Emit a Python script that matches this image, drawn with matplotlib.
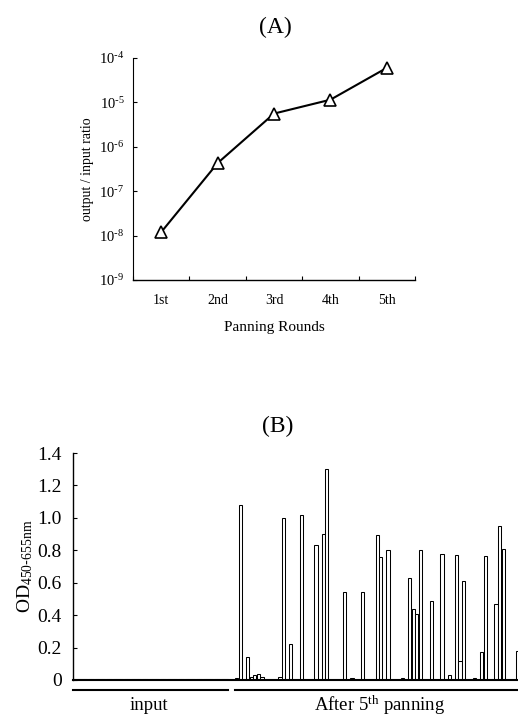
import numpy as np
import matplotlib
matplotlib.use("Agg")
from matplotlib import pyplot as plt
from matplotlib.ticker import FixedLocator, FuncFormatter

# panel A: output/input ratio per panning round
rounds = ['1st', '2nd', '3rd', '4th', '5th']
ratio = [1.2e-8, 4.3e-7, 5.6e-6, 1.15e-5, 6.0e-5]

# panel B: ELISA OD per well (input wells, then wells after 5th panning)
input_od = [0.003, 0.003, 0.003, 0.003, 0.003, 0.004, 0.004, 0.003, 0.003, 0.003,
            0.003, 0.003, 0.003, 0.003, 0.003, 0.003, 0.003, 0.003, 0.003, 0.003,
            0.003, 0.003, 0.003, 0.003, 0.003, 0.003, 0.003, 0.003, 0.003, 0.003,
            0.003, 0.003, 0.003, 0.003, 0.003, 0.003, 0.003, 0.003, 0.003, 0.003,
            0.003, 0.003, 0.003]
# well number -> OD for the visible bars after 5th panning
hit_wells = [45, 46, 48, 49, 50, 51, 52, 57, 58, 60, 63, 67, 69, 70, 75, 77, 80,
             84, 85, 87, 91, 93, 94, 95, 96, 99, 102, 104, 106, 107, 108, 111,
             113, 114, 117, 118, 119, 123]
hit_od = [0.01, 1.08, 0.14, 0.02, 0.03, 0.04, 0.02, 0.02, 1.00, 0.22, 1.02, 0.83,
          0.90, 1.30, 0.54, 0.01, 0.545, 0.895, 0.76, 0.80, 0.01, 0.63, 0.44,
          0.41, 0.80, 0.49, 0.78, 0.03, 0.77, 0.12, 0.61, 0.01, 0.17, 0.765,
          0.47, 0.95, 0.81, 0.18]

plt.rcParams['font.family'] = ['Liberation Serif', 'DejaVu Serif']
plt.rcParams['mathtext.default'] = 'regular'

fig = plt.figure(figsize=(5.18, 7.16), dpi=100)

# ---- (A)
ax1 = fig.add_axes([0.2568, 0.6089, 0.5444, 0.3101])
xa = np.arange(len(rounds)) + 0.5
ax1.plot(xa, ratio, color='black', lw=1.5, marker='^', ms=8.5,
         mfc='white', mec='black', mew=1.2, clip_on=False, zorder=3)
ax1.set_yscale('log')
ax1.set_ylim(1e-9, 1e-4)
ax1.set_xlim(0, 5)
ax1.yaxis.set_major_locator(FixedLocator([1e-9, 1e-8, 1e-7, 1e-6, 1e-5, 1e-4]))
ax1.yaxis.set_minor_locator(FixedLocator([]))
ax1.yaxis.set_major_formatter(FuncFormatter(
    lambda v, p: r'$10^{\text{-}%d}$' % abs(int(round(np.log10(v))))))
ax1.set_xticks(xa)
ax1.set_xticklabels(rounds)
ax1.tick_params(axis='x', which='major', length=0, pad=10, labelsize=10)
ax1.set_xticks(np.arange(6), minor=True)
ax1.tick_params(axis='x', which='minor', direction='in', length=3, width=0.8)
ax1.tick_params(axis='y', direction='in', length=3, width=0.8, labelsize=10.5, pad=6)
ax1.spines['top'].set_visible(False)
ax1.spines['right'].set_visible(False)
ax1.spines['left'].set_linewidth(0.8)
ax1.spines['bottom'].set_linewidth(1.0)
ax1.set_ylabel('output / input ratio', fontsize=10, labelpad=4)
ax1.set_xlabel('Panning Rounds', fontsize=11, labelpad=10)
fig.text(0.531, 0.962, '(A)', ha='center', va='center', fontsize=17)

# ---- (B)
ax2 = fig.add_axes([0.1409, 0.0503, 0.8591, 0.3170])
wells = np.arange(len(input_od))
ax2.bar(wells, input_od, width=0.9, color='white', edgecolor='black', lw=0.75)
ax2.bar(hit_wells, hit_od, width=0.9, color='white', edgecolor='black', lw=0.75)
ax2.set_xlim(-0.5, 123.1)
ax2.set_ylim(0, 1.4)
ax2.set_yticks([0, 0.2, 0.4, 0.6, 0.8, 1.0, 1.2, 1.4])
ax2.yaxis.set_major_formatter(FuncFormatter(lambda v, p: '0' if v == 0 else '%.1f' % v))
ax2.tick_params(axis='y', direction='in', length=3, width=0.8, labelsize=14, pad=8)
ax2.set_xticks([])
ax2.spines['top'].set_visible(False)
ax2.spines['right'].set_visible(False)
ax2.spines['left'].set_linewidth(1.0)
ax2.spines['bottom'].set_linewidth(1.5)
ax2.set_ylabel(r'$OD_{450\text{-}655nm}$', fontsize=14, labelpad=2)
# group underlines and labels
tr = ax2.get_xaxis_transform()
ax2.plot([-0.5, 42.6], [-0.046, -0.046], color='black', lw=1.5, transform=tr, clip_on=False)
ax2.plot([44.5, 123.1], [-0.046, -0.046], color='black', lw=1.5, transform=tr, clip_on=False)
ax2.text(20.5, -0.112, 'input', transform=tr, ha='center', va='center', fontsize=13.5)
ax2.text(84.5, -0.112, r'After 5$^{th}$ panning', transform=tr, ha='center',
         va='center', fontsize=13.5)
fig.text(0.537, 0.404, '(B)', ha='center', va='center', fontsize=17)

fig.savefig('out.png', dpi=100)
